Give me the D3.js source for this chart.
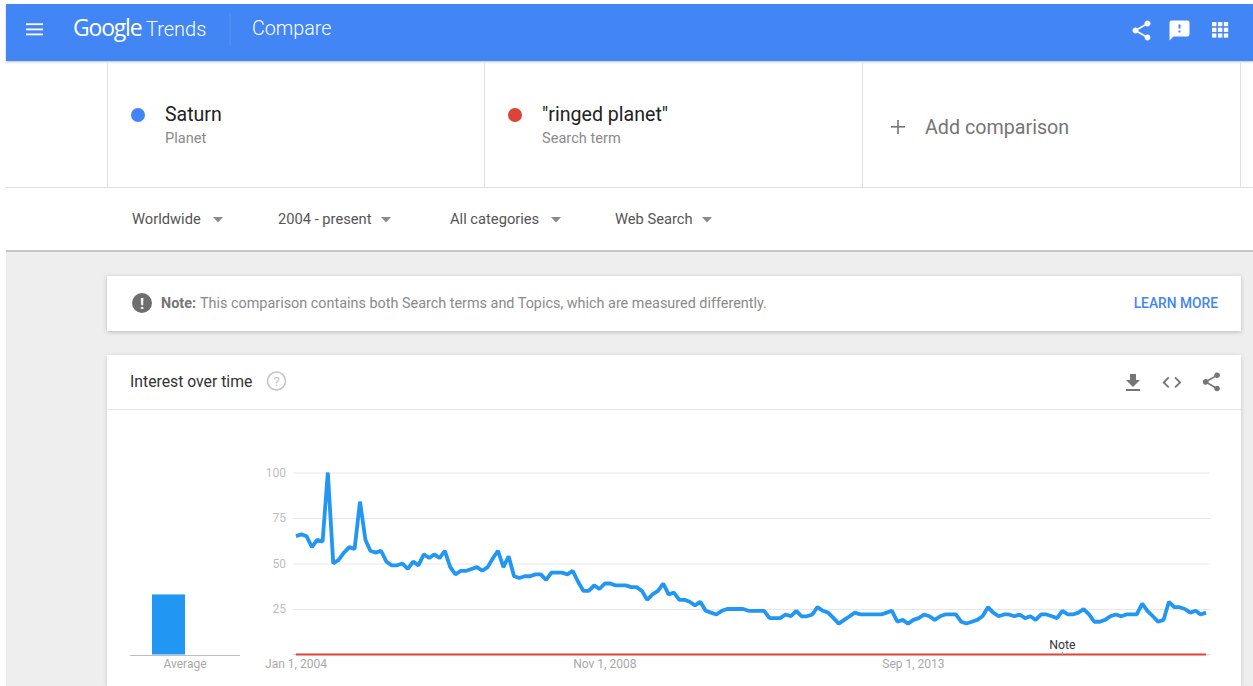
<!DOCTYPE html>
<html>
<head>
<meta charset="utf-8">
<script src="https://cdn.jsdelivr.net/npm/d3@7"></script>
<style>
  html, body { margin: 0; padding: 0; background: #fff; overflow: hidden; }
  svg { display: block; font-family: Roboto, sans-serif; }
</style>
</head>
<body>
<div id="chart-area"></div>
<script>
// Monthly values, Jan 2004 onward
let saturnValues = [
  65, 66, 65, 59, 63, 62, 100, 50, 52, 56, 59, 58, 84, 63, 57, 56, 57, 51, 49, 49,
  50, 47, 51, 49, 55, 53, 55, 53, 57, 48, 44, 46, 46, 47, 48, 46, 48, 53, 57, 48,
  54, 43, 42, 43, 43, 44, 44, 41, 45, 45, 45, 44, 46, 40, 35, 35, 38, 36, 39, 39,
  38, 38, 38, 37, 37, 35, 30, 33, 35, 39, 33, 34, 30, 30, 29, 27, 29, 24, 23, 22,
  24, 25, 25, 25, 25, 24, 24, 24, 24, 20, 20, 20, 22, 21, 24, 21, 21, 22, 26, 24,
  23, 20, 17, 19, 21, 23, 22, 22, 22, 22, 22, 23, 24, 18, 19, 17, 19, 20, 22, 21,
  19, 21, 22, 22, 22, 18, 17, 18, 19, 21, 26, 23, 21, 22, 22, 21, 22, 20, 21, 19,
  22, 22, 21, 20, 24, 22, 22, 23, 25, 22, 18, 18, 19, 21, 22, 21, 22, 22, 22, 28,
  24, 21, 18, 19, 29, 26, 26, 25, 23, 24, 22, 23
];
// The second term stays at zero for the whole range
let ringedValues = saturnValues.map(() => 0);
let months = saturnValues.map((d, i) => new Date(2004, i, 1));

let seriesNames = ["Saturn", "ringed planet"];
let averages = [33, 0];
let seriesColors = ["#2196f3", "#db4437"];

let yTicks = [25, 50, 75, 100];
let xTicks = [new Date(2004, 0, 1), new Date(2008, 10, 1), new Date(2013, 8, 1)];
let noteDate = new Date(2016, 0, 1);

let width = 1253;
let height = 686;

let svg = d3.select("#chart-area")
  .append("svg")
  .attr("width", width)
  .attr("height", height);

let iconShare = "M18 16.08c-.76 0-1.44.3-1.96.77L8.91 12.7c.05-.23.09-.46.09-.7s-.04-.47-.09-.7l7.05-4.11c.54.5 1.25.81 2.04.81 1.66 0 3-1.34 3-3s-1.34-3-3-3-3 1.34-3 3c0 .24.04.47.09.7L8.04 9.81C7.5 9.31 6.79 9 6 9c-1.66 0-3 1.34-3 3s1.34 3 3 3c.79 0 1.5-.31 2.04-.81l7.12 4.16c-.05.21-.08.43-.08.65 0 1.61 1.31 2.92 2.92 2.92 1.61 0 2.92-1.31 2.92-2.92s-1.31-2.92-2.92-2.92z";
let iconFeedback = "M20 2H4c-1.1 0-1.99.9-1.99 2L2 22l4-4h14c1.1 0 2-.9 2-2V4c0-1.1-.9-2-2-2zm-7 12h-2v-2h2v2zm0-4h-2V6h2v4z";
let iconDownload = "M19 9h-4V3H9v6H5l7 7 7-7zM5 18v2h14v-2H5z";
let iconCode = "M9.4 16.6L4.8 12l4.6-4.6L8 6l-6 6 6 6 1.4-1.4zm5.2 0l4.6-4.6-4.6-4.6L16 6l6 6-6 6-1.4-1.4z";

function box(x, y, w, h, fill) {
  return svg.append("rect").attr("x", x).attr("y", y).attr("width", w).attr("height", h).attr("fill", fill);
}
function label(x, y, str, size, fill, anchor) {
  return svg.append("text").attr("x", x).attr("y", y)
    .attr("font-size", size).attr("fill", fill)
    .attr("text-anchor", anchor || "start").text(str);
}
function icon(path, x, y, scale, fill) {
  svg.append("path").attr("d", path).attr("fill", fill)
    .attr("transform", "translate(" + x + "," + y + ") scale(" + scale + ")");
}
function rule(x1, y1, x2, y2, color) {
  svg.append("line").attr("x1", x1).attr("y1", y1).attr("x2", x2).attr("y2", y2)
    .attr("stroke", color).attr("stroke-width", 1);
}

// Page background
box(6, 251, 1247, 435, "#eeeeee");
box(6, 250, 1247, 2, "#c4c4c4");

// Top bar
box(6, 4, 1247, 57, "#4285f4").style("filter", "drop-shadow(0 1px 1px rgba(0,0,0,.25))");
[23.3, 28.5, 33.5].forEach(y => box(26, y, 17, 1.8, "#fff"));
label(73, 36, "Google", 23, "#fff").attr("font-family", "Open Sans").attr("letter-spacing", -1.2);
label(146, 36, "Trends", 20, "#fff").attr("font-weight", 300);
rule(230, 14, 230, 46, "#5a95f6");
label(252, 35, "Compare", 19.7, "#fff").attr("font-weight", 300);
icon(iconShare, 1129.5, 18.5, 1, "#fff");
icon(iconFeedback, 1167.5, 18.5, 1, "#fff");
d3.range(3).forEach(r => d3.range(3).forEach(c => {
  box(1212 + c * 5.9, 22 + r * 5.7, 4.4, 4.2, "#fff");
}));

// Compare row
[107, 484, 862, 1240].forEach(x => rule(x + 0.5, 63, x + 0.5, 187, "#e0e0e0"));
rule(6, 187.5, 1253, 187.5, "#e0e0e0");
svg.append("circle").attr("cx", 138).attr("cy", 115).attr("r", 7).attr("fill", "#4285f4");
svg.append("circle").attr("cx", 515).attr("cy", 115).attr("r", 7).attr("fill", "#db4437");
label(165, 121, "Saturn", 19.5, "#212121");
label(165, 143, "Planet", 14.6, "#8a8a8a");
label(542, 121, "\"ringed planet\"", 19.6, "#212121");
label(542, 143, "Search term", 14.6, "#8a8a8a");
label(925, 134, "Add comparison", 19.7, "#757575");
box(891, 126, 14, 1.6, "#757575");
box(897.2, 120, 1.6, 14, "#757575");

// Filter row
let filters = [
  { text: "Worldwide", x: 132, arrow: 218 },
  { text: "2004 - present", x: 278, arrow: 386 },
  { text: "All categories", x: 450, arrow: 556 },
  { text: "Web Search", x: 615, arrow: 707 }
];
filters.forEach(f => {
  label(f.x, 224, f.text, 14.7, "#555");
  svg.append("path").attr("fill", "#8a8a8a")
    .attr("d", d3.line()([[f.arrow - 5, 217], [f.arrow + 5, 217], [f.arrow, 222.5]]));
});

// Note card
box(107, 276, 1134, 55, "#fff").style("filter", "drop-shadow(0 1px 2px rgba(0,0,0,.22))");
svg.append("circle").attr("cx", 142).attr("cy", 303).attr("r", 10).attr("fill", "#6e6e6e");
label(142, 308.5, "!", 15, "#fff", "middle").attr("font-weight", 700);
label(161, 308, "Note:", 14.4, "#757575").attr("font-weight", 700);
label(200, 308, "This comparison contains both Search terms and Topics, which are measured differently.", 14.4, "#8a8a8a");
label(1218, 308, "LEARN MORE", 13.8, "#4285f4", "end").attr("font-weight", 500);

// Interest card
box(107, 355, 1134, 331, "#fff").style("filter", "drop-shadow(0 1px 2px rgba(0,0,0,.15))");
rule(107, 409.5, 1241, 409.5, "#e6e6e6");
label(130, 387, "Interest over time", 15.75, "#333");
svg.append("circle").attr("cx", 276.5).attr("cy", 381).attr("r", 9).attr("fill", "none")
  .attr("stroke", "#c4c4c4").attr("stroke-width", 1.5);
label(276.5, 386, "?", 13, "#c4c4c4", "middle");
icon(iconDownload, 1121, 371, 1, "#757575");
icon(iconCode, 1160.5, 371, 0.95, "#757575");
icon(iconShare, 1200, 370.5, 0.95, "#757575");

// Scales
let x = d3.scaleTime()
  .domain([months[0], months[months.length - 1]])
  .range([296, 1206]);

let y = d3.scaleLinear()
  .domain([0, 100])
  .range([654.5, 472.5]);

let barX = d3.scaleBand()
  .domain(seriesNames)
  .range([152, 218]);

// Y axis with gridlines
let yAxis = d3.axisLeft(y)
  .tickValues(yTicks)
  .tickSizeInner(-917)
  .tickSizeOuter(0)
  .tickPadding(7);

let yAxisGroup = svg.append("g")
  .attr("class", "y-axis")
  .attr("transform", "translate(293,0)")
  .call(yAxis);
yAxisGroup.select(".domain").remove();
yAxisGroup.selectAll("line").attr("stroke", "#e8e8e8");
yAxisGroup.selectAll("text")
  .attr("fill", "#bdbdbd")
  .attr("font-family", "Roboto")
  .attr("font-size", 12);

// X axis
let xAxis = d3.axisBottom(x)
  .tickValues(xTicks)
  .tickFormat(d3.timeFormat("%b %-d, %Y"))
  .tickSize(0)
  .tickPadding(4);

let xAxisGroup = svg.append("g")
  .attr("class", "x-axis")
  .attr("transform", "translate(-0.5,655)")
  .call(xAxis);
xAxisGroup.select(".domain").remove();
xAxisGroup.selectAll("text")
  .attr("fill", "#a8a8a8")
  .attr("font-family", "Roboto")
  .attr("font-size", 12);

rule(293, 654.5, 1210, 654.5, "#cfcfcf");

// Series lines
let line = d3.line()
  .x((d, i) => x(months[i]))
  .y(d => y(d));

svg.append("path")
  .datum(ringedValues)
  .attr("fill", "none")
  .attr("stroke", seriesColors[1])
  .attr("stroke-width", 2.2)
  .attr("d", line);

svg.append("path")
  .datum(saturnValues)
  .attr("fill", "none")
  .attr("stroke", seriesColors[0])
  .attr("stroke-width", 3.8)
  .attr("stroke-linejoin", "bevel")
  .attr("d", line);

// Note marker
rule(x(noteDate), 652, x(noteDate), 656, "#9e9e9e");
label(x(noteDate), 649, "Note", 12.3, "#333", "middle");

// Average bars
svg.selectAll(".avg-bar")
  .data(averages)
  .enter()
  .append("rect")
  .attr("class", "avg-bar")
  .attr("x", (d, i) => barX(seriesNames[i]))
  .attr("y", d => y(d))
  .attr("width", barX.bandwidth())
  .attr("height", d => y(0) - y(d))
  .attr("fill", (d, i) => seriesColors[i]);

rule(130, 655.5, 240, 655.5, "#bdbdbd");
label(185, 668, "Average", 12, "#a8a8a8", "middle");
</script>
</body>
</html>
